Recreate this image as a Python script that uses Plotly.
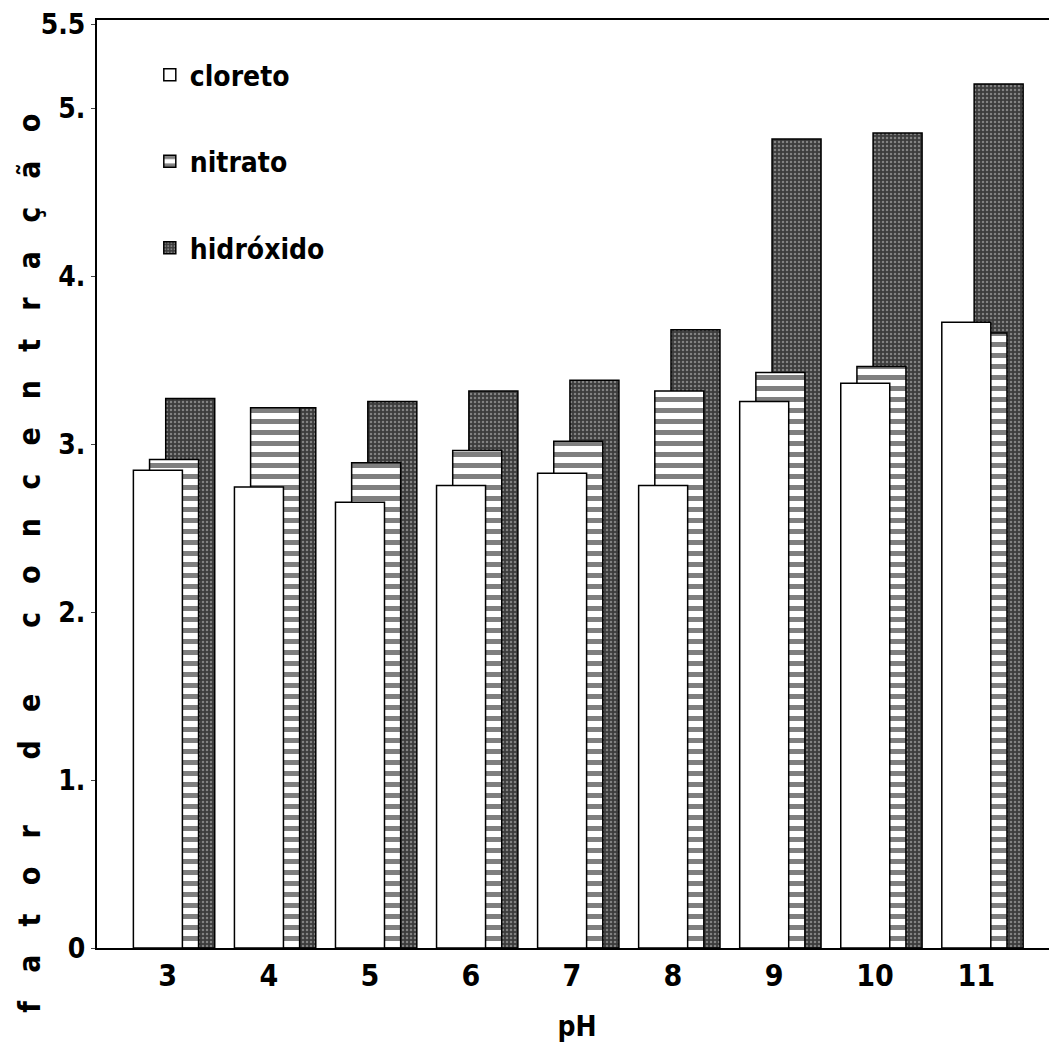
import plotly.graph_objects as go

ph = [3, 4, 5, 6, 7, 8, 9, 10, 11]
cloreto = [3.13, 3.02, 2.92, 3.03, 3.11, 3.03, 3.58, 3.70, 4.10]
nitrato = [3.20, 3.54, 3.18, 3.26, 3.32, 3.65, 3.77, 3.81, 4.03]
hidroxido = [3.60, 3.54, 3.58, 3.65, 3.72, 4.05, 5.30, 5.34, 5.66]

y_tickvals = [0, 1.1, 2.2, 3.3, 4.4, 5.5, 6.05]
y_ticktext = ["0", "1.", "2.", "3.", "4.", "5.", "5.5"]
x_ticktext = ["3", "4", "5", "6", "7", "8", "9", "10", "11"]
y_title = "fator de concentração"

FONT = "DejaVu Sans Condensed, Liberation Sans Narrow, sans-serif"
W = 0.485

fig = go.Figure()
fig.add_trace(go.Bar(
    x=ph, y=hidroxido, name="hidróxido", legendgroup="h", legendrank=3,
    width=W, offset=-0.02,
    marker=dict(color="#3c3c3c", line=dict(color="black", width=1.5),
                pattern=dict(shape=".", fgcolor="#c8c8c8", bgcolor="#3c3c3c",
                             size=4, solidity=0.3, fillmode="overlay")),
))
fig.add_trace(go.Bar(
    x=ph, y=nitrato, name="nitrato", legendgroup="n", legendrank=2,
    width=W, offset=-0.18,
    marker=dict(color="white", line=dict(color="black", width=1.5),
                pattern=dict(shape="-", fgcolor="black", bgcolor="white",
                             size=11, solidity=0.45, fillmode="overlay")),
))
fig.add_trace(go.Bar(
    x=ph, y=cloreto, name="cloreto", legendgroup="c", legendrank=1,
    width=W, offset=-0.34,
    marker=dict(color="white", line=dict(color="black", width=1.5)),
))

# page body has an 8px margin, so the figure is sized/offset to compensate
fig.update_layout(
    width=1049, height=1039,
    margin=dict(l=89, r=0, t=12, b=99, autoexpand=False),
    barmode="overlay",
    plot_bgcolor="white", paper_bgcolor="white",
    font=dict(family=FONT, size=26, color="black"),
    showlegend=True,
    legend=dict(x=0.055, y=0.9675, xanchor="left", yanchor="top",
                bgcolor="rgba(0,0,0,0)", tracegroupgap=47,
                font=dict(family=FONT, size=28, color="black", weight="bold")),
    xaxis=dict(range=[2.30, 11.80], tickvals=ph, ticktext=x_ticktext,
               automargin=False,
               showline=True, linecolor="black", linewidth=2, mirror=True,
               showgrid=False, zeroline=False, ticks="",
               tickfont=dict(family=FONT, size=30, weight="bold"),
               title=dict(text="pH", font=dict(family=FONT, size=28, weight="bold"),
                          standoff=24)),
    yaxis=dict(range=[0, 6.08], tickvals=y_tickvals, ticktext=y_ticktext,
               automargin=False,
               showline=True, linecolor="black", linewidth=2,
               showgrid=False, zeroline=False, ticks="outside", ticklen=4,
               tickfont=dict(family=FONT, size=28, weight="bold")),
)

letter_gap = "&nbsp;" * 3
word_gap = "&nbsp;" * 7
spaced = word_gap.join(letter_gap.join(list(w)) for w in y_title.split(" "))

fig.add_annotation(
    text=spaced,
    xref="paper", yref="paper", x=-0.07, y=0.415,
    xanchor="center", yanchor="middle", textangle=-90, showarrow=False,
    font=dict(family=FONT, size=30, color="black", weight="bold"),
)

fig.write_html("out.html")
